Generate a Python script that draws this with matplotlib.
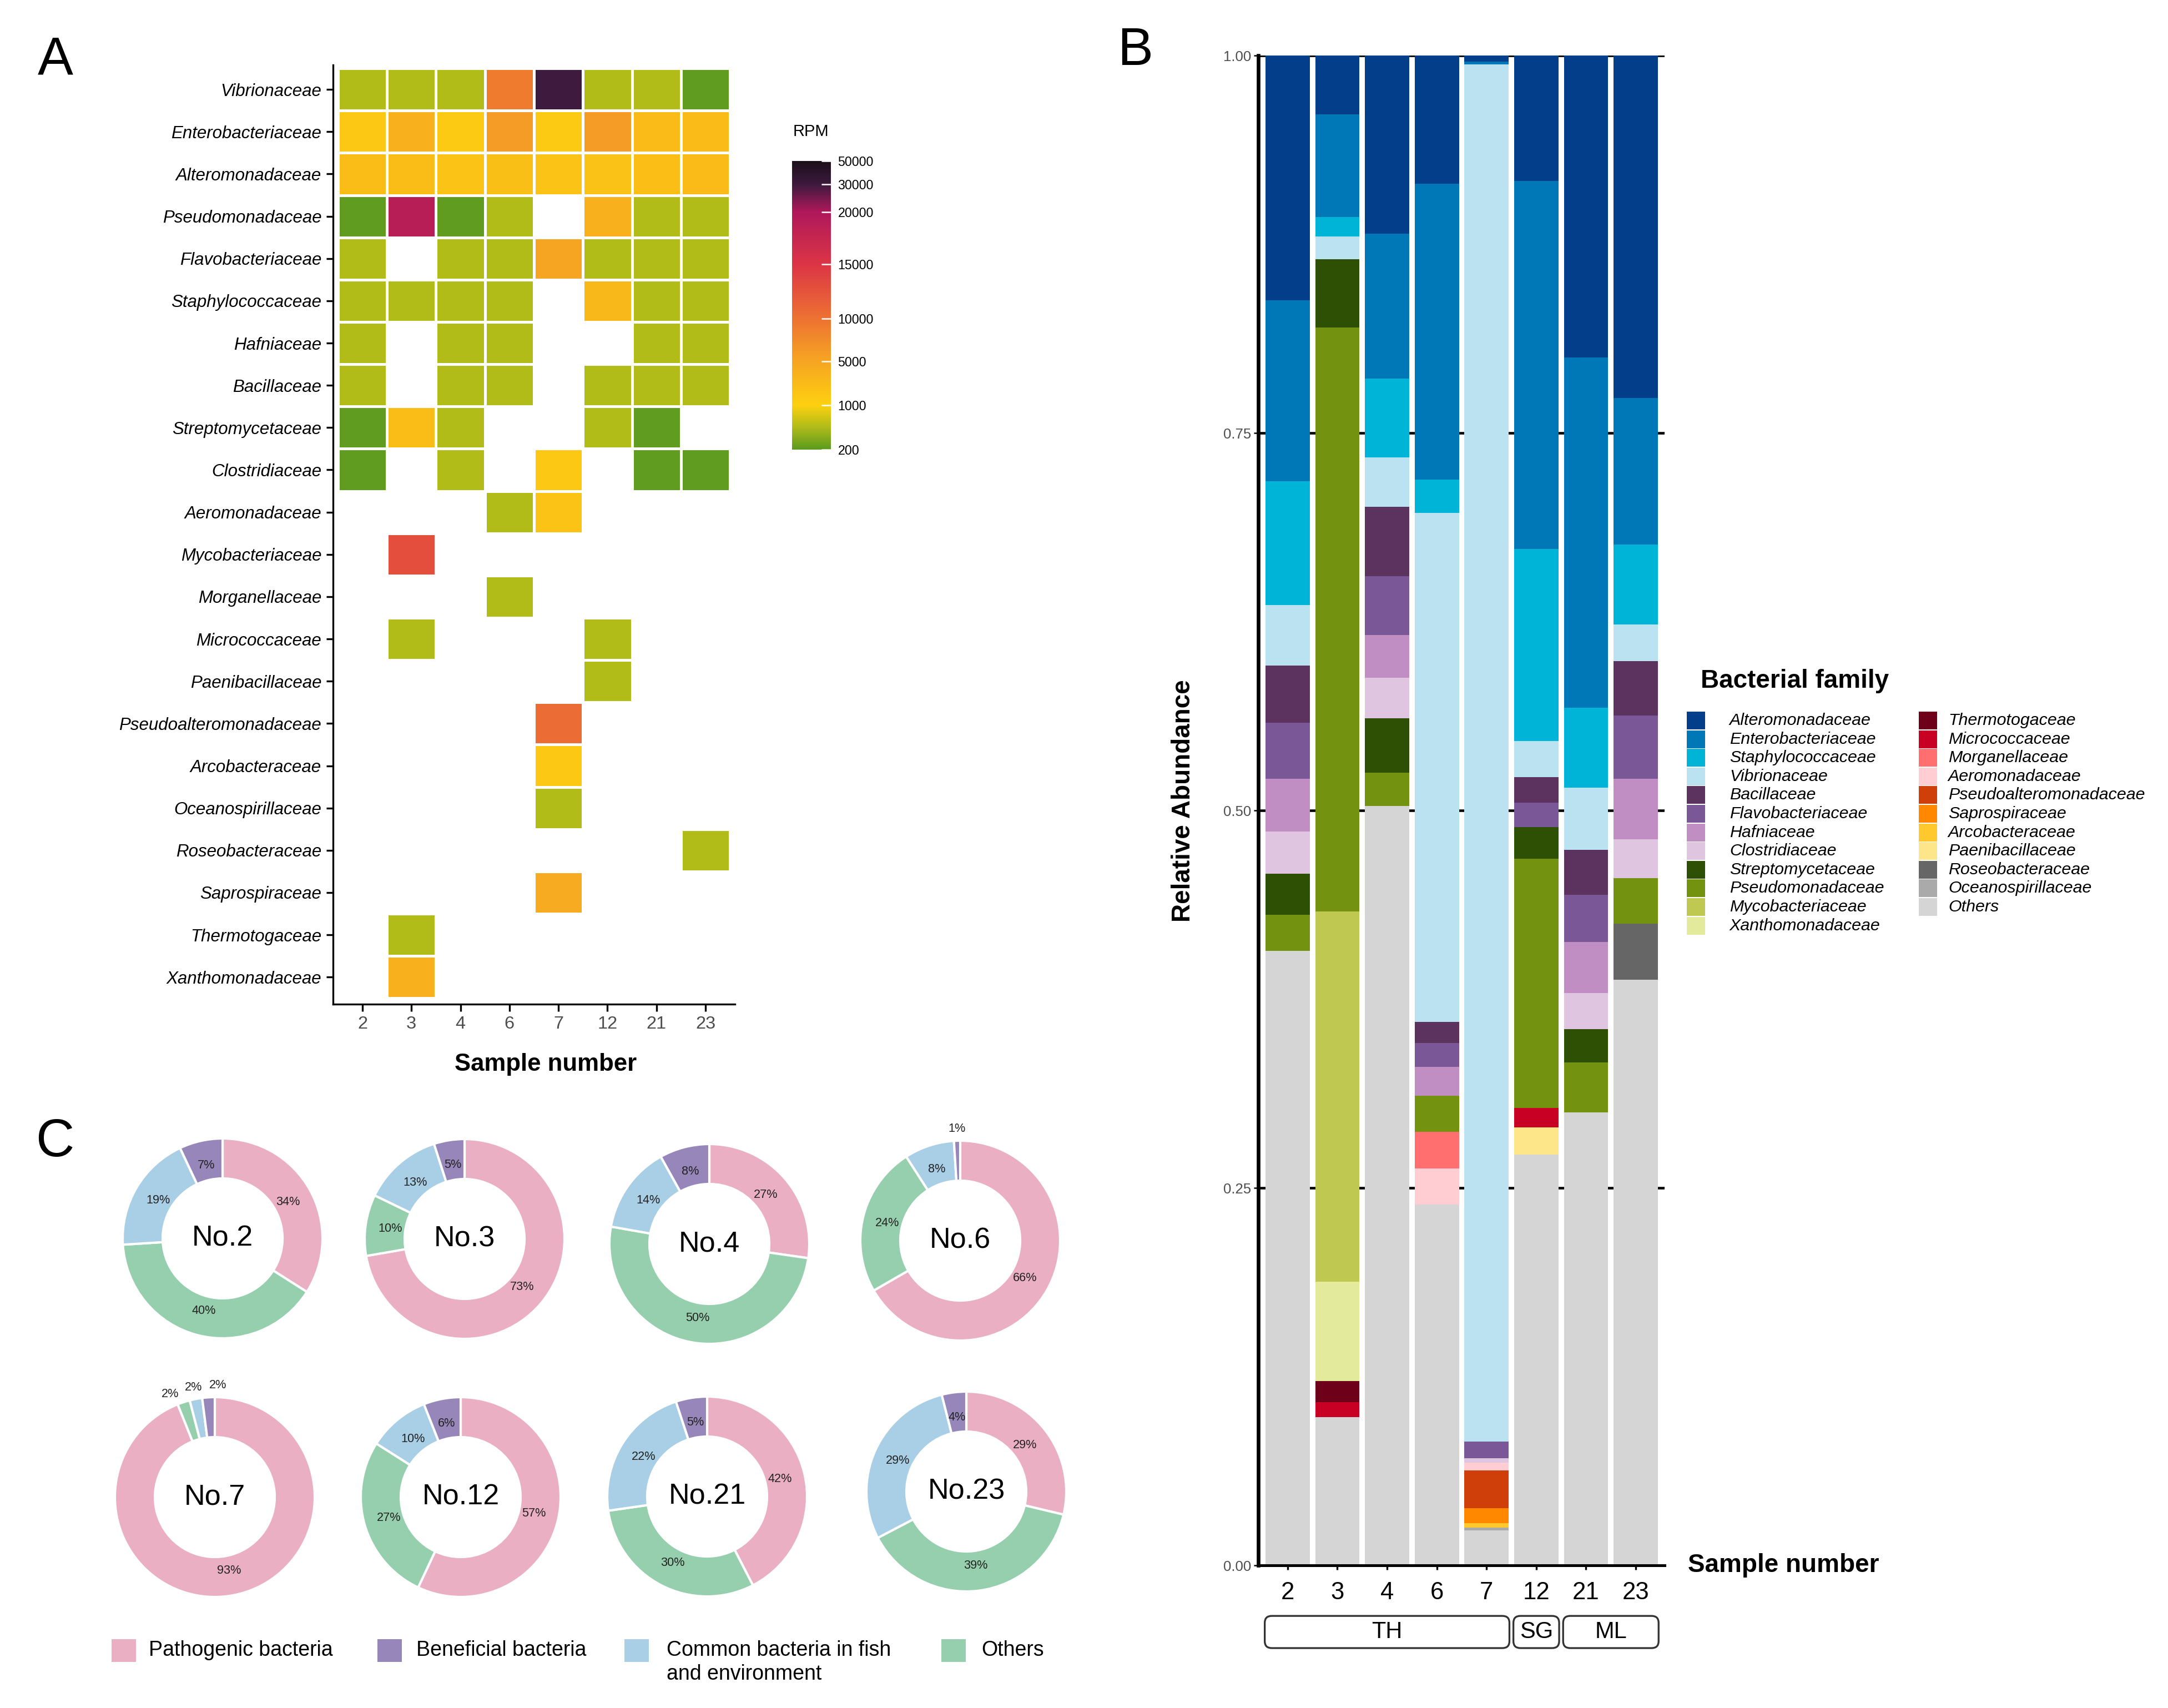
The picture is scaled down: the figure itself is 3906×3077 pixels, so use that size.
import numpy as np
import matplotlib
matplotlib.use("Agg")
import matplotlib.pyplot as plt
from matplotlib.colors import LinearSegmentedColormap, Normalize
from matplotlib.cm import ScalarMappable
from matplotlib.patches import Rectangle, FancyBboxPatch
from matplotlib.transforms import blended_transform_factory

plt.rcParams['font.family'] = ['Liberation Sans', 'DejaVu Sans']

W, H = 3906, 3077
fig = plt.figure(figsize=(W / 300, H / 300), dpi=300)

samples = ['2', '3', '4', '6', '7', '12', '21', '23']

# ---------------- A: RPM heatmap data ----------------
hm_families = ['Vibrionaceae', 'Enterobacteriaceae', 'Alteromonadaceae', 'Pseudomonadaceae',
               'Flavobacteriaceae', 'Staphylococcaceae', 'Hafniaceae', 'Bacillaceae',
               'Streptomycetaceae', 'Clostridiaceae', 'Aeromonadaceae', 'Mycobacteriaceae',
               'Morganellaceae', 'Micrococcaceae', 'Paenibacillaceae', 'Pseudoalteromonadaceae',
               'Arcobacteraceae', 'Oceanospirillaceae', 'Roseobacteraceae', 'Saprospiraceae',
               'Thermotogaceae', 'Xanthomonadaceae']
n = np.nan
rpm = np.array([
    [620, 620, 620, 9200, 30000, 620, 620, 230],
    [1750, 3900, 1650, 6000, 1600, 6000, 3000, 3000],
    [2800, 2800, 2300, 2600, 2300, 2500, 2700, 3000],
    [230, 19000, 230, 620, n, 3900, 620, 620],
    [620, n, 620, 620, 5000, 620, 620, 620],
    [620, 620, 620, 620, n, 3250, 620, 620],
    [620, n, 620, 620, n, n, 620, 620],
    [620, n, 620, 620, n, 620, 620, 620],
    [230, 2800, 620, n, n, 620, 230, n],
    [230, n, 620, n, 1750, n, 230, 230],
    [n, n, n, 620, 2300, n, n, n],
    [n, 13000, n, n, n, n, n, n],
    [n, n, n, 620, n, n, n, n],
    [n, 620, n, n, n, 620, n, n],
    [n, n, n, n, n, 620, n, n],
    [n, n, n, n, 10500, n, n, n],
    [n, n, n, n, 1750, n, n, n],
    [n, n, n, n, 620, n, n, n],
    [n, n, n, n, n, n, n, 620],
    [n, n, n, n, 4500, n, n, n],
    [n, 620, n, n, n, n, n, n],
    [n, 3900, n, n, n, n, n, n],
])

# colour bar breaks and where they sit along the bar
rpm_breaks = [200, 1000, 5000, 10000, 15000, 20000, 30000, 50000]
bar_pos = [0.0, 0.153, 0.306, 0.453, 0.642, 0.823, 0.92, 1.0]
cmap_nodes = [(0.0, '#5b9a1f'), (0.08, '#b4bd18'), (0.153, '#fdd010'), (0.306, '#f6a522'),
              (0.453, '#ed7232'), (0.642, '#dc3545'), (0.823, '#b0185a'), (0.92, '#3e1a3f'),
              (1.0, '#1b0f19')]
rpm_cmap = LinearSegmentedColormap.from_list('rpm', cmap_nodes)

# ---------------- B: relative abundance data ----------------
families_b = ['Alteromonadaceae', 'Enterobacteriaceae', 'Staphylococcaceae', 'Vibrionaceae',
              'Bacillaceae', 'Flavobacteriaceae', 'Hafniaceae', 'Clostridiaceae',
              'Streptomycetaceae', 'Pseudomonadaceae', 'Mycobacteriaceae', 'Xanthomonadaceae',
              'Thermotogaceae', 'Micrococcaceae', 'Morganellaceae', 'Aeromonadaceae',
              'Pseudoalteromonadaceae', 'Saprospiraceae', 'Arcobacteraceae', 'Paenibacillaceae',
              'Roseobacteraceae', 'Oceanospirillaceae', 'Others']
family_colors = ['#023e8a', '#0077b6', '#00b4d8', '#bae2f1', '#5c335e', '#7a5797', '#c08ec2',
                 '#dfc5e0', '#2d5004', '#739210', '#bfc851', '#e4ea9b', '#6e0019', '#c70024',
                 '#ff6f6f', '#ffcdd2', '#cf3f09', '#ff8800', '#ffc92e', '#fde68a', '#666666',
                 '#aaaaaa', '#d5d5d5']
# values per sample in legend order
ab_2 = [.162, .120, .082, .040, .038, .037, .035, .028, .027, .024, 0, 0, 0, 0, 0, 0, 0, 0, 0, 0, 0, 0, .407]
ab_3 = [.039, .068, .013, .015, 0, 0, 0, 0, .045, .387, .245, .066, .014, .010, 0, 0, 0, 0, 0, 0, 0, 0, .098]
ab_4 = [.118, .096, .052, .033, .046, .039, .028, .027, .036, .022, 0, 0, 0, 0, 0, 0, 0, 0, 0, 0, 0, 0, .503]
ab_6 = [.085, .196, .022, .337, .014, .016, .019, 0, 0, .024, 0, 0, 0, 0, .024, .024, 0, 0, 0, 0, 0, 0, .239]
ab_7 = [.004, .002, 0, .912, 0, .011, 0, .003, 0, 0, 0, 0, 0, 0, 0, .005, .025, .010, .003, 0, 0, .002, .023]
ab_12 = [.083, .244, .127, .024, .017, .016, 0, 0, .021, .165, 0, 0, 0, .013, 0, 0, 0, 0, 0, .018, 0, 0, .272]
ab_21 = [.200, .232, .053, .041, .030, .031, .034, .024, .022, .033, 0, 0, 0, 0, 0, 0, 0, 0, 0, 0, 0, 0, .300]
ab_23 = [.227, .097, .053, .024, .036, .042, .040, .026, 0, .030, 0, 0, 0, 0, 0, 0, 0, 0, 0, 0, .037, 0, .388]

groups = ['TH', 'SG', 'ML']
group_members = [['2', '3', '4', '6', '7'], ['12'], ['21', '23']]

# ---------------- C: donut data ----------------
donut_names = ['No.2', 'No.3', 'No.4', 'No.6', 'No.7', 'No.12', 'No.21', 'No.23']
# order: pathogenic, others, common, beneficial (clockwise from 12 o'clock)
pathogenic = [34, 73, 27, 66, 93, 57, 42, 29]
others_pct = [40, 10, 50, 24, 2, 27, 30, 39]
common = [19, 13, 14, 8, 2, 10, 22, 29]
beneficial = [7, 5, 8, 1, 2, 6, 5, 4]
cat_labels = ['Pathogenic bacteria', 'Beneficial bacteria',
              'Common bacteria in fish\nand environment', 'Others']
cat_colors = {'Pathogenic bacteria': '#ebafc3', 'Beneficial bacteria': '#9786b9',
              'Common bacteria in fish\nand environment': '#a8cfe5', 'Others': '#95cfad'}


def fx(px):
    return px / W


def fy(py):
    return 1 - py / H


# ================= Panel A =================
ax_a = fig.add_axes([fx(600), fy(1809), fx(1324) - fx(600), fy(117) - fy(1809)])
nrow = len(hm_families)
pos = np.interp(np.nan_to_num(rpm, nan=200), rpm_breaks, bar_pos)
pos = np.ma.masked_where(np.isnan(rpm), pos)
ax_a.pcolormesh(np.arange(len(samples) + 1) - 0.5, np.arange(nrow + 1) - 0.5, pos,
                cmap=rpm_cmap, vmin=0, vmax=1, edgecolors='white', linewidth=1.2)
ax_a.set_xlim(-0.6, len(samples) - 0.4)
ax_a.set_ylim(nrow - 0.5 + 0.14, -0.58)
ax_a.set_xticks(range(len(samples)))
ax_a.set_xticklabels(samples, fontsize=7.8, color='#4d4d4d')
ax_a.set_yticks(range(nrow))
ax_a.set_yticklabels(hm_families, fontsize=7.5, style='italic', color='black')
ax_a.tick_params(length=3, width=0.8, color='black', pad=2)
for s in ['top', 'right']:
    ax_a.spines[s].set_visible(False)
for s in ['left', 'bottom']:
    ax_a.spines[s].set_linewidth(0.8)
fig.text(fx(983), fy(1917), 'Sample number', fontsize=10.5, fontweight='bold',
         ha='center', va='center')

# colour bar
cax = fig.add_axes([fx(1427), fy(810), fx(1497) - fx(1427), fy(290) - fy(810)])
cb = fig.colorbar(ScalarMappable(norm=Normalize(0, 1), cmap=rpm_cmap), cax=cax, ticks=bar_pos)
cb.set_ticklabels([str(v) for v in rpm_breaks])
cb.outline.set_visible(False)
cax.tick_params(direction='in', color='white', length=4, width=0.6, pad=3, labelsize=5.6)
fig.text(fx(1429), fy(237), 'RPM', fontsize=7, ha='left', va='center')

# ================= Panel B =================
ax_b = fig.add_axes([fx(2267), fy(2820), fx(2999) - fx(2267), fy(100) - fy(2820)])
x = np.arange(len(samples))
ab = np.array([ab_2, ab_3, ab_4, ab_6, ab_7, ab_12, ab_21, ab_23]).T
bottom = np.zeros(len(samples))
for k in range(len(families_b) - 1, -1, -1):
    ax_b.bar(x, ab[k], width=0.89, bottom=bottom, color=family_colors[k], linewidth=0, zorder=2)
    bottom += ab[k]
ax_b.set_xlim(-0.59, len(samples) - 0.42)
ax_b.set_ylim(0, 1)
ax_b.set_yticks([0, 0.25, 0.5, 0.75, 1.0])
ax_b.set_yticklabels(['0.00', '0.25', '0.50', '0.75', '1.00'], fontsize=6.2, color='#4d4d4d')
ax_b.set_xticks(x)
ax_b.set_xticklabels(samples, fontsize=10.5)
ax_b.tick_params(axis='y', length=2, width=0.6, pad=1)
ax_b.tick_params(axis='x', length=2, width=0.8, pad=5)
ax_b.yaxis.grid(True, color='black', linewidth=1.1, zorder=0)
ax_b.set_axisbelow(True)
for s in ['top', 'right']:
    ax_b.spines[s].set_visible(False)
ax_b.spines['left'].set_linewidth(1.6)
ax_b.spines['bottom'].set_linewidth(1.2)
fig.text(fx(3041), fy(2820), 'Sample number', fontsize=11, fontweight='bold', ha='left', va='center')
fig.text(fx(2132), fy(1443), 'Relative Abundance', fontsize=11, fontweight='bold',
         rotation=90, ha='center', va='center')

# sampling-site boxes under the axis
trans = blended_transform_factory(ax_b.transData, ax_b.transAxes)
ax_w_px = (fx(2999) - fx(2267)) * W
ax_h_px = (fy(100) - fy(2820)) * H
m_aspect = ax_w_px / ((len(samples) - 0.42 + 0.59) * ax_h_px)
y_top, y_bot = -0.0335, -0.0548
for g, members in zip(groups, group_members):
    i0, i1 = samples.index(members[0]), samples.index(members[-1])
    x0, x1 = i0 - 0.46, i1 + 0.46
    box = FancyBboxPatch((x0, y_bot), x1 - x0, y_top - y_bot,
                         boxstyle='round,pad=0,rounding_size=0.14', mutation_aspect=m_aspect,
                         transform=trans, clip_on=False, facecolor='white',
                         edgecolor='#333333', linewidth=0.8)
    ax_b.add_patch(box)
    ax_b.text((x0 + x1) / 2, (y_top + y_bot) / 2, g, transform=trans, fontsize=10,
              ha='center', va='center')

# family legend
fig.text(fx(3064), fy(1227), 'Bacterial family', fontsize=11, fontweight='bold',
         ha='left', va='center')
for k, (fam, col) in enumerate(zip(families_b, family_colors)):
    c, r = divmod(k, 12)
    key_x = 3039 if c == 0 else 3457
    txt_x = 3116 if c == 0 else 3510
    yc = 1298 + 33.6 * r
    fig.add_artist(Rectangle((fx(key_x), fy(yc + 16)), fx(33), 32 / H,
                             transform=fig.transFigure, facecolor=col, edgecolor='none'))
    fig.text(fx(txt_x), fy(yc), fam, fontsize=7.3, style='italic', ha='left', va='center')

# ================= Panel C =================
centers = [(401, 2231), (837, 2232), (1278, 2241), (1730, 2235),
           (387, 2697), (830, 2697), (1274, 2696), (1741, 2687)]
order = ['Pathogenic bacteria', 'Others', 'Common bacteria in fish\nand environment',
         'Beneficial bacteria']
aw, ah = 396 / W, 396 / H
for i, name in enumerate(donut_names):
    cx, cy = centers[i]
    ax = fig.add_axes([fx(cx) - aw / 2, fy(cy) - ah / 2, aw, ah])
    vals = [pathogenic[i], others_pct[i], common[i], beneficial[i]]
    wedges, _ = ax.pie(vals, colors=[cat_colors[o] for o in order], startangle=90,
                       counterclock=False, radius=1,
                       wedgeprops=dict(width=0.4, edgecolor='white', linewidth=1.0))
    ax.set_xlim(-1.1, 1.1)
    ax.set_ylim(-1.1, 1.1)
    ax.set_aspect('equal')
    ax.axis('off')
    mids = [(w.theta1 + w.theta2) / 2 for w in wedges]
    small = [j for j, v in enumerate(vals) if v <= 2]
    # spread outside labels of tiny slices so they do not overlap
    if len(small) > 1:
        centre_ang = np.mean([mids[j] for j in small])
        for rank, j in enumerate(small):
            mids[j] = centre_ang + 12.5 * ((len(small) - 1) / 2 - rank)
    for j, v in enumerate(vals):
        ang = np.deg2rad(mids[j])
        r = 0.75 if v > 2 else 1.12
        ax.text(r * np.cos(ang), r * np.sin(ang), f'{v}%', fontsize=5.2, color='#222222',
                ha='center', va='center', clip_on=False)
    ax.text(0, 0, name, fontsize=12.5, ha='center', va='center')

# category legend
leg_keys = [201, 680, 1125, 1696]
leg_txt = [268, 750, 1201, 1768]
for lab, kx, tx in zip(cat_labels, leg_keys, leg_txt):
    fig.add_artist(Rectangle((fx(kx), fy(2994)), fx(44), 41 / H, transform=fig.transFigure,
                             facecolor=cat_colors[lab], edgecolor='none'))
    fig.text(fx(tx), fy(2955), lab, fontsize=9, ha='left', va='top', linespacing=1.25)

# panel letters
fig.text(fx(100), fy(108), 'A', fontsize=23, ha='center', va='center')
fig.text(fx(2045), fy(92), 'B', fontsize=23, ha='center', va='center')
fig.text(fx(99), fy(2058), 'C', fontsize=23, ha='center', va='center')

fig.savefig('out.png', dpi=300)
